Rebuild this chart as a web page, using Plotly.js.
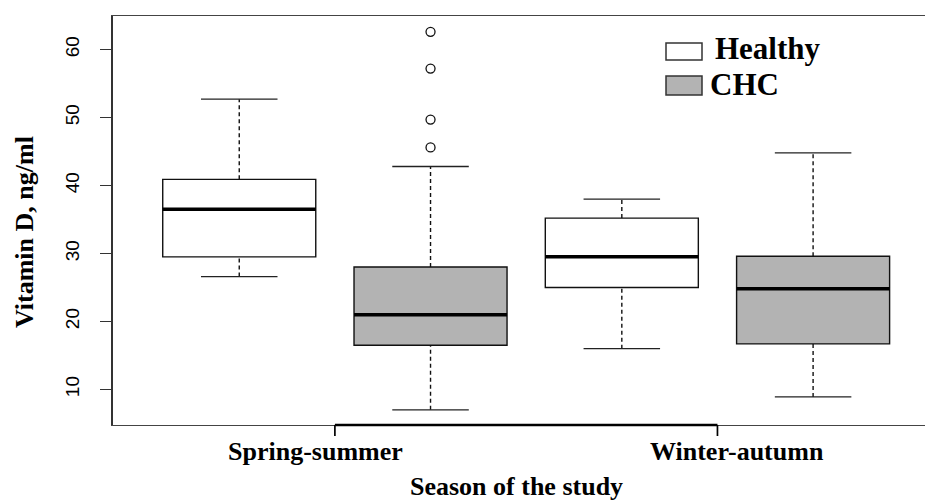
<!DOCTYPE html>
<html>
<head>
<meta charset="utf-8">
<script src="https://cdn.plot.ly/plotly-3.0.1.min.js"></script>
<style>
html,body{margin:0;padding:0;background:#fff;}
#chart{width:925px;height:500px;}
</style>
</head>
<body>
<div id="chart"></div>
<script>
// ---- data ----
var seasons = ['Spring-summer', 'Winter-autumn'];
var groups = ['Healthy', 'CHC'];

var healthyQ1     = [29.5, 25.0];
var healthyMedian = [36.5, 29.5];
var healthyQ3     = [40.9, 35.2];
var healthyLower  = [26.6, 16.0];
var healthyUpper  = [52.7, 38.0];

var chcQ1     = [16.5, 16.7];
var chcMedian = [21.0, 24.8];
var chcQ3     = [28.0, 29.6];
var chcLower  = [7.0, 8.9];
var chcUpper  = [42.8, 44.8];

var chcOutliersSpring = [45.6, 49.7, 57.2, 62.6];

var yTickVals = [10, 20, 30, 40, 50, 60];
var yTickText = ['10', '20', '30', '40', '50', '60'];
var xTickVals = [1.5, 3.5];

// ---- layout helpers ----
var W = 925, H = 500;
var M = {l: 113, r: 0, t: 16, b: 75};
var plotW = W - M.l - M.r, plotH = H - M.t - M.b;
var xRange = [0.34, 4.585];
function px(xp) { return (xp - M.l) / plotW; }
function py(yp) { return (H - M.b - yp) / plotH; }
function dataToPaperX(v) { return (v - xRange[0]) / (xRange[1] - xRange[0]); }

var serif = 'Liberation Serif, Times New Roman, serif';
var fills = {Healthy: '#ffffff', CHC: '#b3b3b3'};
var stats = {
  Healthy: {q1: healthyQ1, med: healthyMedian, q3: healthyQ3, lo: healthyLower, hi: healthyUpper},
  CHC: {q1: chcQ1, med: chcMedian, q3: chcQ3, lo: chcLower, hi: chcUpper}
};
function pos(si, gi) { return 2 * si + gi + 1; }

var boxW = 0.8, capW = 0.4;
var traces = [];
var whX = [], whY = [], capX = [], capY = [], medX = [], medY = [];

groups.forEach(function (g, gi) {
  var s = stats[g];
  var xs = seasons.map(function (_, si) { return pos(si, gi); });
  traces.push({
    type: 'box', name: g, x: xs,
    q1: s.q1, median: s.med, q3: s.q3,
    lowerfence: s.q1, upperfence: s.q3,
    width: boxW, whiskerwidth: 0, boxpoints: false,
    fillcolor: fills[g],
    line: {color: '#111', width: 1.4},
    showlegend: false, hoverinfo: 'skip'
  });
  xs.forEach(function (p, si) {
    whX.push(p, p, null, p, p, null);
    whY.push(s.q3[si], s.hi[si], null, s.lo[si], s.q1[si], null);
    capX.push(p - capW / 2, p + capW / 2, null, p - capW / 2, p + capW / 2, null);
    capY.push(s.hi[si], s.hi[si], null, s.lo[si], s.lo[si], null);
    medX.push(p - boxW / 2, p + boxW / 2, null);
    medY.push(s.med[si], s.med[si], null);
  });
});

traces.push({type: 'scatter', mode: 'lines', x: whX, y: whY,
  line: {color: '#111', width: 1.4, dash: '4px,3px'}, showlegend: false, hoverinfo: 'skip'});
traces.push({type: 'scatter', mode: 'lines', x: capX, y: capY,
  line: {color: '#222', width: 1.4}, showlegend: false, hoverinfo: 'skip'});
traces.push({type: 'scatter', mode: 'lines', x: medX, y: medY,
  line: {color: '#000', width: 3.5}, showlegend: false, hoverinfo: 'skip'});
traces.push({type: 'scatter', mode: 'markers',
  x: chcOutliersSpring.map(function () { return pos(0, 1); }), y: chcOutliersSpring,
  marker: {symbol: 'circle-open', size: 9, color: '#111', line: {width: 1.3}},
  showlegend: false, hoverinfo: 'skip'});

var annotations = [
  {text: seasons[0], xref: 'x', x: 1.4, yref: 'paper', y: 0, yshift: -26, xanchor: 'center', yanchor: 'middle',
   showarrow: false, font: {family: serif, size: 26, color: '#000', weight: 'bold'}},
  {text: seasons[1], xref: 'x', x: 3.6, yref: 'paper', y: 0, yshift: -26, xanchor: 'center', yanchor: 'middle',
   showarrow: false, font: {family: serif, size: 26, color: '#000', weight: 'bold'}},
  {text: 'Season of the study', xref: 'paper', x: px(516), yref: 'paper', y: py(486), xanchor: 'center', yanchor: 'middle',
   showarrow: false, font: {family: serif, size: 26, color: '#000', weight: 'bold'}},
  {text: 'Vitamin D, ng/ml', textangle: -90, xref: 'paper', x: px(24), yref: 'paper', y: py(232),
   xanchor: 'center', yanchor: 'middle', showarrow: false,
   font: {family: serif, size: 26, color: '#000', weight: 'bold'}},
  {text: groups[0], xref: 'paper', x: px(713), yref: 'paper', y: py(48), xanchor: 'left', yanchor: 'middle',
   showarrow: false, font: {family: serif, size: 31, color: '#000', weight: 'bold'}},
  {text: groups[1], xref: 'paper', x: px(708), yref: 'paper', y: py(84), xanchor: 'left', yanchor: 'middle',
   showarrow: false, font: {family: serif, size: 31, color: '#000', weight: 'bold'}}
];

var shapes = [
  {type: 'line', xref: 'paper', yref: 'paper', x0: dataToPaperX(xTickVals[0]), x1: dataToPaperX(xTickVals[1]),
   y0: 0, y1: 0, line: {color: '#000', width: 2.5}},
  {type: 'rect', xref: 'paper', yref: 'paper', x0: px(666), x1: px(702), y0: py(60), y1: py(43),
   fillcolor: fills.Healthy, line: {color: '#333', width: 1.5}},
  {type: 'rect', xref: 'paper', yref: 'paper', x0: px(666), x1: px(702), y0: py(95), y1: py(76),
   fillcolor: fills.CHC, line: {color: '#333', width: 1.5}}
];
xTickVals.forEach(function (t) {
  shapes.push({type: 'line', xref: 'paper', yref: 'paper', x0: dataToPaperX(t), x1: dataToPaperX(t),
    y0: 0, y1: py(436), line: {color: '#000', width: 1.7}});
});

var layout = {
  width: W, height: H,
  margin: M,
  paper_bgcolor: '#fff', plot_bgcolor: '#fff',
  showlegend: false,
  boxmode: 'overlay',
  xaxis: {
    range: xRange, tickvals: xTickVals, showticklabels: false, ticks: '',
    showline: true, mirror: true, linecolor: '#444', linewidth: 1.4,
    showgrid: false, zeroline: false, fixedrange: true
  },
  yaxis: {
    range: [4.77, 64.93], tickvals: yTickVals, ticktext: yTickText,
    tickangle: -90, ticks: 'outside', ticklen: 11, tickwidth: 1.4, tickcolor: '#333',
    ticklabelstandoff: 14,
    tickfont: {family: 'Liberation Sans, Arial, sans-serif', size: 19, color: '#000'},
    showline: true, mirror: false, linecolor: '#333', linewidth: 1.6,
    showgrid: false, zeroline: false, fixedrange: true
  },
  annotations: annotations,
  shapes: shapes
};

Plotly.newPlot('chart', traces, layout, {displayModeBar: false, staticPlot: true});
</script>
</body>
</html>
